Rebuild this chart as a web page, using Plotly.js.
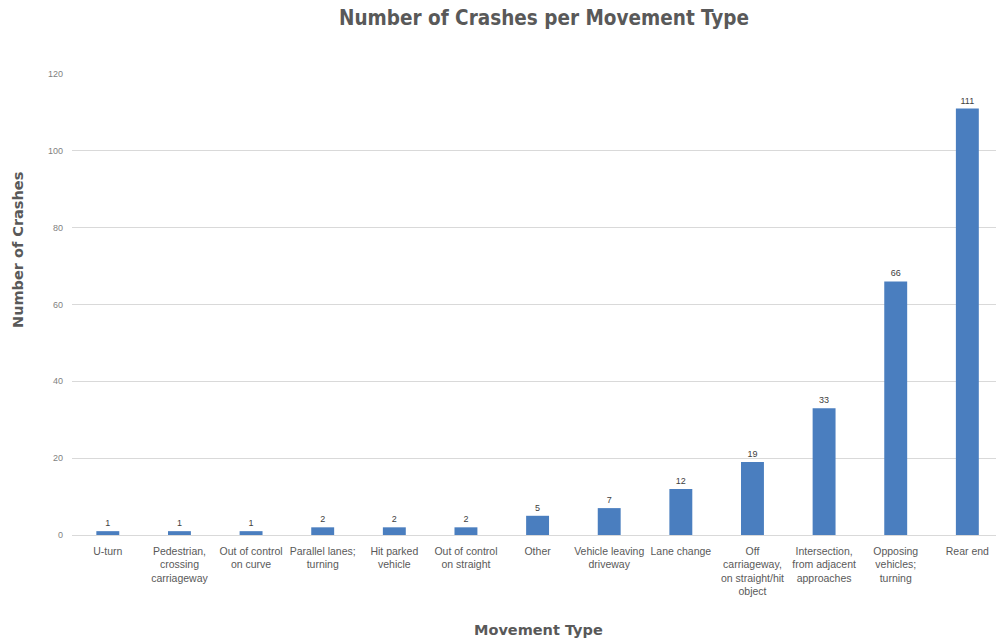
<!DOCTYPE html>
<html>
<head>
<meta charset="utf-8">
<script src="https://cdn.plot.ly/plotly-3.0.1.min.js"></script>
<style>html,body{margin:0;padding:0;background:#fff;}#chart{width:996px;height:641px;}</style>
</head>
<body>
<div id="chart"></div>
<script>
const categories = [
  "U-turn",
  "Pedestrian,<br>crossing<br>carriageway",
  "Out of control<br>on curve",
  "Parallel lanes;<br>turning",
  "Hit parked<br>vehicle",
  "Out of control<br>on straight",
  "Other",
  "Vehicle leaving<br>driveway",
  "Lane change",
  "Off<br>carriageway,<br>on straight/hit<br>object",
  "Intersection,<br>from adjacent<br>approaches",
  "Opposing<br>vehicles;<br>turning",
  "Rear end"
];
const crashes = [1, 1, 1, 2, 2, 2, 5, 7, 12, 19, 33, 66, 111];
const yTicks = [0, 20, 40, 60, 80, 100, 120];

const trace = {
  type: 'bar',
  x: categories,
  y: crashes,
  text: crashes.map(String),
  textposition: 'outside',
  textfont: {family: 'Liberation Sans, Arial, sans-serif', size: 9, color: '#404040'},
  cliponaxis: false,
  marker: {color: '#4a7ebf'},
  hoverinfo: 'none'
};

const layout = {
  width: 996,
  height: 641,
  margin: {l: 72, r: 0, t: 74, b: 106},
  paper_bgcolor: '#ffffff',
  plot_bgcolor: '#ffffff',
  bargap: 0.68,
  showlegend: false,
  title: {
    text: '<b>Number of Crashes per Movement Type</b>',
    font: {family: 'DejaVu Sans Condensed, DejaVu Sans, Arial, sans-serif', size: 20.5, color: '#595959'},
    x: 544 / 996, xanchor: 'center', xref: 'container',
    y: 1 - 18 / 641, yanchor: 'middle', yref: 'container'
  },
  xaxis: {
    type: 'category',
    range: [-0.5, 12.4],
    showgrid: false,
    showline: false,
    zeroline: false,
    ticks: '',
    ticklabelstandoff: 8,
    tickangle: 0,
    tickfont: {family: 'Liberation Sans, Arial, sans-serif', size: 10.5, color: '#595959'},
    fixedrange: true
  },
  yaxis: {
    range: [0, 120],
    tickvals: yTicks,
    ticktext: yTicks.map(String),
    showgrid: true,
    gridcolor: '#d9d9d9',
    gridwidth: 1,
    zeroline: true,
    zerolinecolor: '#d9d9d9',
    showline: false,
    ticks: '',
    ticklabelstandoff: 8,
    tickfont: {family: 'Liberation Sans, Arial, sans-serif', size: 9, color: '#7f7f7f'},
    fixedrange: true
  },
  annotations: [
    {
      text: '<b>Number of Crashes</b>',
      xref: 'paper', yref: 'paper',
      x: (18 - 72) / 924, y: (535 - 250) / 461,
      xanchor: 'center', yanchor: 'middle',
      textangle: -90, showarrow: false,
      font: {family: 'DejaVu Sans, Arial, sans-serif', size: 14.5, color: '#595959'}
    },
    {
      text: '<b>Movement Type</b>',
      xref: 'paper', yref: 'paper',
      x: (538 - 72) / 924, y: (535 - 630) / 461,
      xanchor: 'center', yanchor: 'middle',
      showarrow: false,
      font: {family: 'DejaVu Sans, Arial, sans-serif', size: 14.5, color: '#595959'}
    }
  ]
};

Plotly.newPlot('chart', [trace], layout, {displayModeBar: false, staticPlot: true});
</script>
</body>
</html>
